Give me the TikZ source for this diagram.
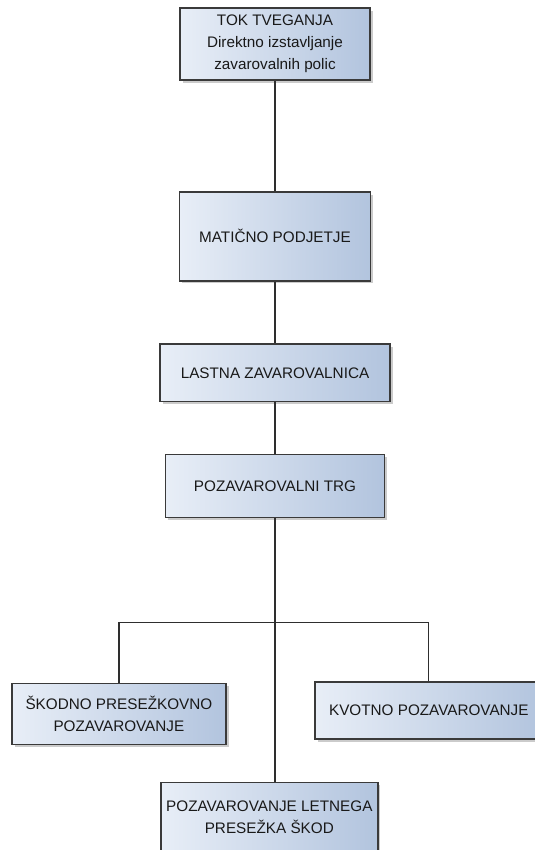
\documentclass[tikz,border=0pt]{standalone}
\usepackage{fontspec}
\setmainfont{Liberation Sans}
\usetikzlibrary{positioning,shadows}

\definecolor{boxleft}{HTML}{E8EEF7}
\definecolor{boxright}{HTML}{B2C4DE}
\definecolor{boxedge}{HTML}{3A3A3A}
\definecolor{linkcol}{HTML}{2E2E2E}

\tikzstyle{box} = [rectangle, draw=boxedge, line width=1.1pt, left color=boxleft, right color=boxright, drop shadow={shadow xshift=2pt, shadow yshift=-2pt, fill=black!45, opacity=0.45}, align=center, inner sep=2pt, text=black!90, font=\fontsize{11.5}{16.5}\selectfont]
\tikzstyle{line} = [draw=linkcol, line width=1pt]

\begin{document}
\begin{tikzpicture}[node distance=3cm]
\useasboundingbox (-7.276,1.164) rectangle (6.853,-21.326);
\node (tok) [box, minimum width=5.03cm, minimum height=1.90cm] {TOK TVEGANJA\\Direktno izstavljanje\\zavarovalnih polic};
\node (maticno) [box, below of=tok, node distance=5.09cm, minimum width=5.05cm, minimum height=2.35cm] {MATIČNO PODJETJE};
\node (lastna) [box, below of=maticno, node distance=3.61cm, minimum width=6.09cm, minimum height=1.53cm] {LASTNA ZAVAROVALNICA};
\node (trg) [box, below of=lastna, minimum width=5.79cm, minimum height=1.67cm] {POZAVAROVALNI TRG};
\node (skodno) [box, below of=trg, node distance=6.03cm, xshift=-4.13cm, minimum width=5.66cm, minimum height=1.61cm] {ŠKODNO PRESEŽKOVNO\\POZAVAROVANJE};
\node (kvotno) [box, below of=trg, node distance=5.93cm, xshift=4.07cm, minimum width=6.03cm, minimum height=1.51cm] {KVOTNO POZAVAROVANJE};
\node (letno) [box, below of=trg, node distance=8.77cm, xshift=-0.15cm, minimum width=5.74cm, minimum height=1.85cm] {POZAVAROVANJE LETNEGA\\PRESEŽKA ŠKOD};
\coordinate [below=2.75cm of trg.south] (split);

\draw [line] (tok) -- (maticno);
\draw [line] (maticno) -- (lastna);
\draw [line] (lastna) -- (trg);
\draw [line] (trg.south) -- (letno.north -| trg.south);
\draw [line] (skodno.north) |- (split) -| (kvotno.north);
\end{tikzpicture}
\end{document}
